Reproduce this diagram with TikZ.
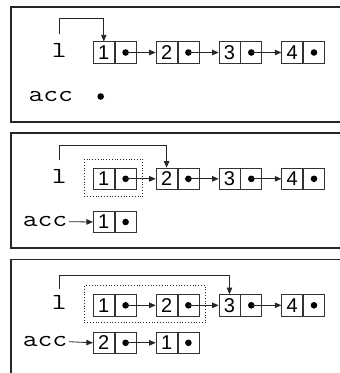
\documentclass[tikz,border=0pt]{standalone}
\usepackage{graphicx}
\usepackage{fontspec}
\newfontfamily\numf{Liberation Sans}
\usetikzlibrary{arrows.meta}
\tikzset{
  frame/.style={draw=black!85, line width=1.1pt},
  cell/.style={draw=black!80, line width=0.8pt, minimum width=21pt, minimum height=21.5pt,
    inner sep=0pt, font=\numf\fontsize{20}{20}\selectfont},
  ptr/.style={draw=black!85, line width=0.8pt, -{Triangle[length=6.5pt,width=5.5pt]}},
  dotbox/.style={draw=black!85, dotted, line width=0.8pt},
  lbl/.style={font=\ttfamily\fontsize{23}{23}\selectfont, inner sep=0pt},
  nil/.style={circle, fill=black, inner sep=0pt, minimum size=6.6pt},
}
\newcommand\wide[1]{\scalebox{1.25}[1]{#1}}
\newcommand\lbox[4]{%
  \node[cell] (#1n) at (#2+10.5,#3) {#4};
  \node[cell, anchor=west] (#1d) at (#1n.east) {};
  \fill (#1d.center) circle (3.3pt);
}
\begin{document}
\begin{tikzpicture}[x=1pt,y=-1pt]
\useasboundingbox (0,0) rectangle (340,373);
\clip (0,0) rectangle (340,373);

% ---------- panel 1 ----------
\draw[frame] (11,7) rectangle (350,122);
\node[lbl] (p1l) at (59.3,50) {\wide{l}};
\lbox{p1a}{93.3}{52.5}{1}
\lbox{p1b}{156.1}{52.5}{2}
\lbox{p1c}{219}{52.5}{3}
\lbox{p1e}{281.7}{52.5}{4}
\draw[ptr] (p1ad.center) -- (p1bn.west);
\draw[ptr] (p1bd.center) -- (p1cn.west);
\draw[ptr] (p1cd.center) -- (p1en.west);
\coordinate (p1s) at (59.3,34);
\coordinate (p1k) at (59.3,18.3);
\draw[ptr] (p1s) -- (p1k) -| (p1an.north);
\node[lbl] (p1acc) at (50.8,96.7) {\wide{acc}};
\node[nil] (p1nil) at (100.7,96.5) {};

% ---------- panel 2 ----------
\draw[frame] (11,133) rectangle (350,248);
\node[lbl] (p2l) at (59.3,176.5) {\wide{l}};
\lbox{p2a}{93.3}{178.8}{1}
\lbox{p2b}{156.1}{178.8}{2}
\lbox{p2c}{219}{178.8}{3}
\lbox{p2e}{281.7}{178.8}{4}
\draw[ptr] (p2ad.center) -- (p2bn.west);
\draw[ptr] (p2bd.center) -- (p2cn.west);
\draw[ptr] (p2cd.center) -- (p2en.west);
\node[dotbox, minimum width=58.4pt, minimum height=37.4pt, inner sep=0pt] (p2box) at (113.5,178) {};
\coordinate (p2s) at (59.3,160);
\coordinate (p2k) at (59.3,145);
\draw[ptr] (p2s) -- (p2k) -| (p2bn.north);
\node[lbl] (p2acc) at (45,221.7) {\wide{acc}};
\lbox{p2x}{93.3}{222}{1}
\draw[ptr] ([xshift=1.5pt]p2acc.east) -- (p2xn.west);

% ---------- panel 3 ----------
\draw[frame] (11,259.7) rectangle (350,400);
\node[lbl] (p3l) at (59.3,302) {\wide{l}};
\lbox{p3a}{93.3}{305.3}{1}
\lbox{p3b}{156.1}{305.3}{2}
\lbox{p3c}{219}{305.3}{3}
\lbox{p3e}{281.7}{305.3}{4}
\draw[ptr] (p3ad.center) -- (p3bn.west);
\draw[ptr] (p3bd.center) -- (p3cn.west);
\draw[ptr] (p3cd.center) -- (p3en.west);
\node[dotbox, minimum width=121.4pt, minimum height=37pt, inner sep=0pt] (p3box) at (145,304.2) {};
\coordinate (p3s) at (59.3,289.3);
\coordinate (p3k) at (59.3,275);
\draw[ptr] (p3s) -- (p3k) -| (p3cn.north);
\node[lbl] (p3acc) at (45,341.7) {\wide{acc}};
\lbox{p3x}{93.3}{342.8}{2}
\lbox{p3y}{156.1}{342.8}{1}
\draw[ptr] ([xshift=1.5pt]p3acc.east) -- (p3xn.west);
\draw[ptr] (p3xd.center) -- (p3yn.west);
\end{tikzpicture}
\end{document}
